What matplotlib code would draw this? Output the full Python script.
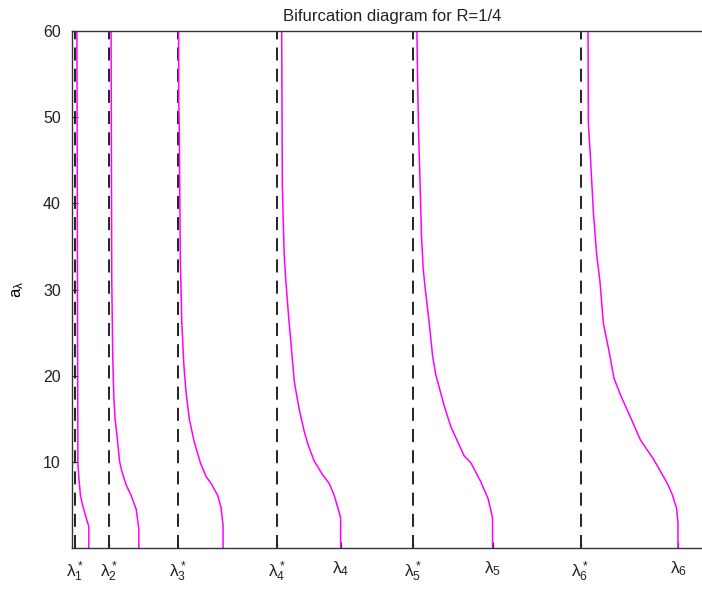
import numpy as np
import matplotlib
matplotlib.use('Agg')
from matplotlib import pyplot as plt

plt.rcParams['font.family'] = ['Liberation Sans', 'DejaVu Sans']
plt.rcParams['mathtext.fontset'] = 'custom'
plt.rcParams['mathtext.rm'] = 'Liberation Sans'
plt.rcParams['mathtext.it'] = 'Liberation Sans'

# critical values (dashed) and bifurcation points (curve bottoms)
lam_star = [0.205, 2.22, 6.32, 12.2, 20.26, 30.2]
lam = [1.0, 3.97, 8.97, 15.95, 24.97, 35.98]

star_labels = [r'$\lambda^*_%d$' % k for k in range(1, 7)]
lam_labels = [r'$\lambda_%d$' % k for k in range(4, 7)]

# branches a_lambda vs lambda
x1 = [1.0, 1.0, 0.84, 0.64, 0.50, 0.41, 0.35, 0.29]
y1 = [0, 2.5, 3.5, 4.9, 6.1, 8.1, 9.7, 60]
x2 = [3.97, 3.97, 3.81, 3.51, 3.22, 2.96, 2.82, 2.68, 2.56, 2.48, 2.42, 2.36, 2.32]
y2 = [0, 2.2, 4.5, 6.1, 7.3, 8.9, 10.1, 12.9, 14.9, 17.7, 22.1, 31.3, 60]
x3 = [8.97, 8.97, 8.85, 8.65, 8.26, 7.96, 7.62, 7.26, 6.97, 6.77, 6.64, 6.52, 6.43,
      6.37, 6.34, 6.33]
y3 = [0, 2.6, 4.7, 6.1, 7.5, 8.3, 9.9, 12.3, 14.9, 18.1, 21.3, 26.1, 33.7, 48.5,
      51.7, 60]
x4 = [15.95, 15.95, 15.81, 15.57, 15.27, 14.88, 14.38, 14.03, 13.79, 13.49, 13.20,
      13.04, 12.86, 12.70, 12.60, 12.54, 12.49, 12.45]
y4 = [0, 3.5, 4.5, 6.1, 7.5, 8.5, 10.1, 11.9, 13.5, 16.1, 19.3, 22.9, 26.9, 30.9,
      34.1, 38.1, 42.1, 60]
x5 = [24.97, 24.97, 24.71, 24.27, 23.68, 23.28, 22.49, 22.10, 21.60, 21.41, 21.21,
      20.95, 20.85, 20.75, 20.67, 20.58, 20.52, 20.48]
y5 = [0, 3.5, 5.7, 7.7, 9.9, 10.7, 14.1, 16.5, 20.1, 22.3, 26.1, 30.5, 32.5, 36.3,
      42.1, 48.1, 54.3, 60]
x6 = [35.98, 35.98, 35.90, 35.64, 35.35, 34.53, 33.76, 33.13, 32.58, 32.18, 31.88,
      31.55, 31.35, 31.15, 30.96, 30.86, 30.76, 30.66, 30.64]
y6 = [0, 2.9, 4.6, 6.2, 7.5, 10.3, 12.5, 15.3, 17.7, 19.7, 22.9, 26.1, 30.9, 34.1,
      38.9, 42.5, 46.1, 49.3, 60]
branches = [(x1, y1), (x2, y2), (x3, y3), (x4, y4), (x5, y5), (x6, y6)]

fig = plt.figure(figsize=(7.02, 5.96), dpi=100)
ax = fig.add_axes([72 / 702, 48 / 596, 640 / 702, 517 / 596])

for xs in lam_star:
    ax.axvline(xs, color='#222222', lw=1.4, linestyle=(0, (6.7, 4.2)), zorder=1)
for xb, yb in branches:
    ax.plot(xb, yb, color='#ff00ff', lw=1.1, zorder=2)

ax.set_xlim(0, 38)
ax.set_ylim(0, 60)
ax.set_yticks([10, 20, 30, 40, 50, 60])
ax.set_xticks(lam_star + lam[3:])
ax.set_xticklabels(star_labels + lam_labels)
ax.tick_params(direction='in', length=4, labelsize=11.5, width=0.8, colors='#222222')
ax.tick_params(axis='y', pad=8)
ax.tick_params(axis='x', pad=8, labelsize=12.5)
for s in ax.spines.values():
    s.set_linewidth(1.0)
    s.set_color('#333333')

ax.set_ylabel(r'$a_\lambda$', fontsize=12, labelpad=12)
ax.set_title('Bifurcation diagram for R=1/4', fontsize=12, pad=7, color='#222222')

fig.savefig('out.png', dpi=100)
